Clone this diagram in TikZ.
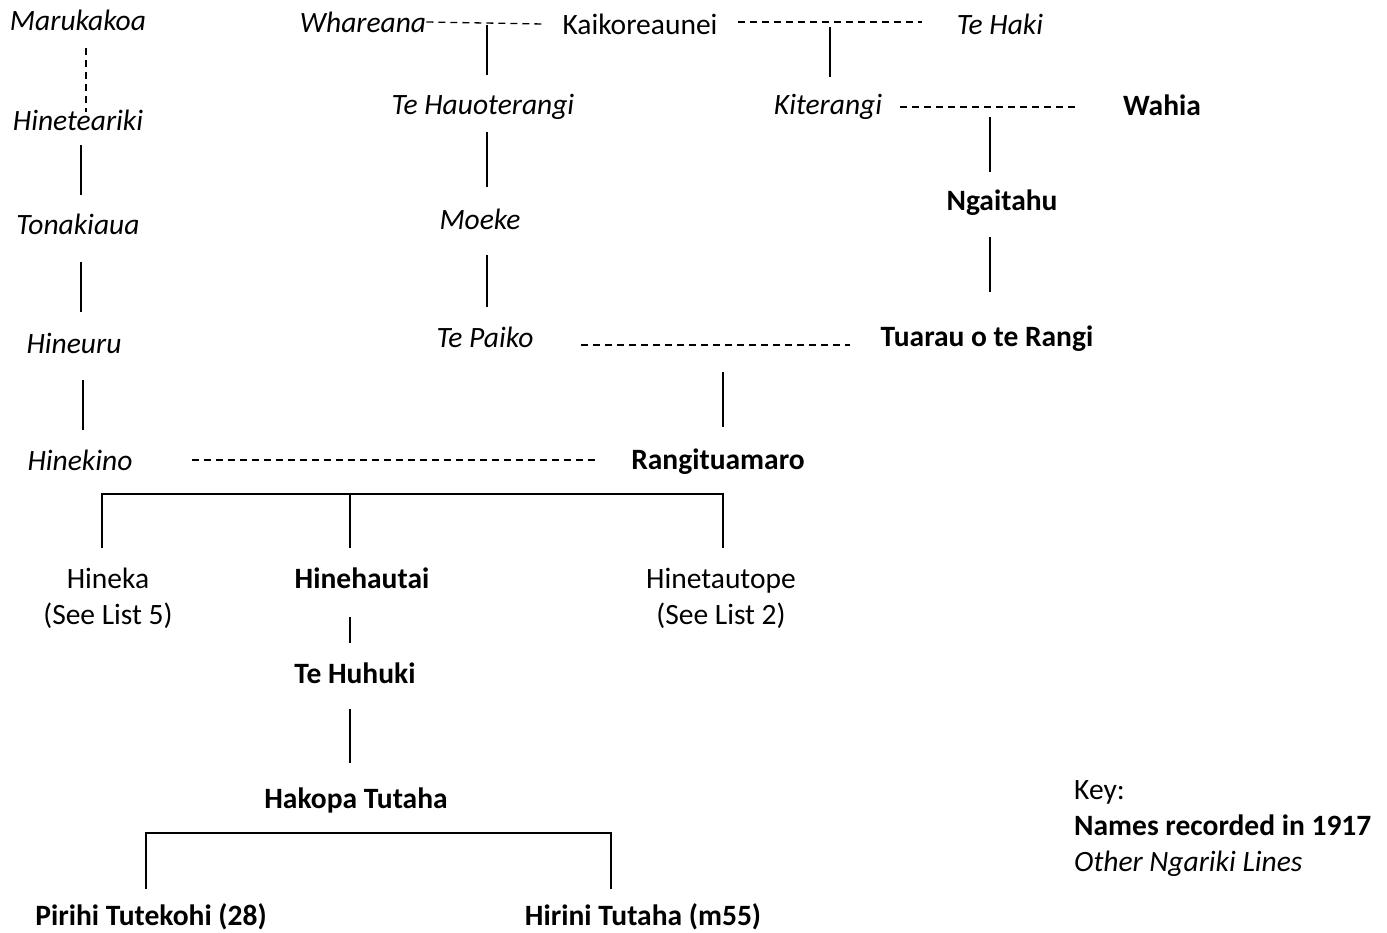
\documentclass[tikz,border=0pt]{standalone}
\usepackage{fontspec}
\setmainfont{Carlito}
\begin{document}
\begin{tikzpicture}[x=1pt,y=-1pt,
  every node/.style={inner sep=0pt,font=\fontsize{29.5}{36}\selectfont},
  other/.style={font=\fontsize{29.5}{36}\selectfont\itshape},
  rec/.style={font=\fontsize{29.5}{36}\selectfont\bfseries},
  plain/.style={},
  descent/.style={line width=1.3pt},
  union/.style={line width=1.3pt,dash pattern=on 7pt off 5pt}]
\useasboundingbox (0,0) rectangle (1387,933);

% --- names ---
\node[other] (maru) at (78,20) {Marukakoa};
\node[other] (whar) at (363,22) {Whareana};
\node[plain] (kaik) at (640,24) {Kaikoreaunei};
\node[other] (haki) at (1000,24) {Te Haki};
\node[other] (hinet) at (78,120) {Hineteariki};
\node[other] (tona) at (78,224) {Tonakiaua};
\node[other] (hineu) at (74,343) {Hineuru};
\node[other] (hinek) at (80,460) {Hinekino};
\node[other] (hauo) at (483,107) {Te Hauoterangi};
\node[other] (moek) at (480,219) {Moeke};
\node[other] (paik) at (485,337) {Te Paiko};
\node[other] (kite) at (828,107) {Kiterangi};
\node[rec] (wahi) at (1162,105) {Wahia};
\node[rec] (ngai) at (1002,203) {Ngaitahu};
\node[rec] (tuar) at (987,339) {Tuarau o te Rangi};
\node[rec] (rang) at (718,462) {Rangituamaro};
\node[plain,align=center] (hnka) at (108,598) {Hineka\\(See List 5)};
\node[rec] (hnht) at (362,578) {Hinehautai};
\node[plain,align=center] (hntp) at (721,598) {Hinetautope\\(See List 2)};
\node[rec] (huhu) at (355,673) {Te Huhuki};
\node[rec] (hako) at (356,800) {Hakopa Tutaha};
\node[rec] (piri) at (151,917) {Pirihi Tutekohi (28)};
\node[rec] (hiri) at (643,917) {Hirini Tutaha (m55)};
\node[plain,anchor=west,align=left] (key) at (1074,829)
  {Key:\\\textbf{Names recorded in 1917}\\\textit{Other Ngariki Lines}};

% --- unions ---
\draw[union] (whar.east) -- (543,24) coordinate (u1);
\draw[union] (738,22) -- (922,22) coordinate (u2);
\draw[union] (900,107) -- (1078,107) coordinate (u3);
\draw[union] (581,345) -- (850,345) coordinate (u4);
\draw[union] (192,460) -- (598,460) coordinate (u5);
\draw[union] (86,48) -- (86,112) coordinate (u6);

% --- descent lines ---
\draw[descent] (487,25) -- (487,75);
\draw[descent] (830,27) -- (830,77);
\draw[descent] (81,145) -- (81,195);
\draw[descent] (81,262) -- (81,312);
\draw[descent] (83,380) -- (83,430);
\draw[descent] (487,132) -- (487,187);
\draw[descent] (487,255) -- (487,307);
\draw[descent] (990,117) -- (990,172);
\draw[descent] (990,237) -- (990,292);
\draw[descent] (723,372) -- (723,427);
\draw[descent] (102,548) -- (102,494) -- (723,494) -- (723,548);
\draw[descent] (350,494) -- (350,548);
\draw[descent] (350,617) -- (350,643);
\draw[descent] (350,709) -- (350,763);
\draw[descent] (146,889) -- (146,833) -- (611,833) -- (611,889);
\end{tikzpicture}
\end{document}
